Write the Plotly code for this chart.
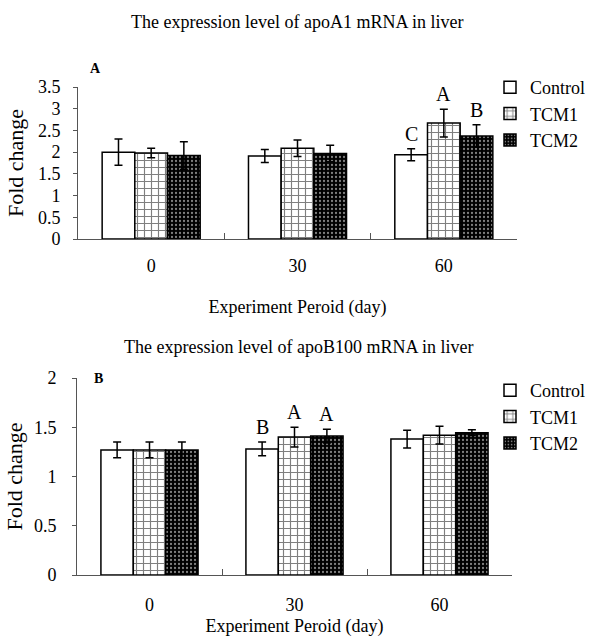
import plotly.graph_objects as go
from plotly.subplots import make_subplots

days = ["0", "30", "60"]
series_names = ["Control", "TCM1", "TCM2"]

# Panel A: apoA1
ctrl_A = [2.00, 1.91, 1.94]
ctrl_A_err = [0.30, 0.15, 0.14]
tcm1_A = [1.98, 2.09, 2.67]
tcm1_A_err = [0.11, 0.19, 0.32]
tcm2_A = [1.92, 1.97, 2.37]
tcm2_A_err = [0.32, 0.19, 0.26]
sig_A = [["", "", "C"], ["", "", "A"], ["", "", "B"]]

# Panel B: apoB100
ctrl_B = [1.27, 1.28, 1.38]
ctrl_B_err = [0.08, 0.07, 0.09]
tcm1_B = [1.27, 1.40, 1.42]
tcm1_B_err = [0.08, 0.10, 0.09]
tcm2_B = [1.27, 1.41, 1.445]
tcm2_B_err = [0.08, 0.07, 0.03]
sig_B = [["", "B", ""], ["", "A", ""], ["", "A", ""]]

title_A = "The expression level of apoA1 mRNA in liver"
title_B = "The expression level of apoB100 mRNA in liver"
xtitle = "Experiment Peroid (day)"
ytitle = "Fold change"
yticks_A = [0, 0.5, 1, 1.5, 2, 2.5, 3, 3.5]
yticks_B = [0, 0.5, 1, 1.5, 2]

FONT = "Liberation Serif"
W, H = 594, 643
BARGAP = 0.33

styles = [
    dict(color="white", pattern=dict(shape="")),
    dict(color="white", pattern=dict(shape="+", fgcolor="black", bgcolor="white",
                                     size=7, solidity=0.3, fillmode="overlay")),
    dict(color="black", pattern=dict(shape=".", fgcolor="white", bgcolor="black",
                                     size=4, solidity=0.25, fillmode="overlay")),
]

fig = make_subplots(rows=2, cols=1)

def add_panel(row, vals, errs, legend):
    for i, (name, v, e) in enumerate(zip(series_names, vals, errs)):
        st = styles[i]
        fig.add_trace(go.Bar(
            x=days, y=v, legend=legend, name=name,
            marker=dict(color=st["color"], pattern=st["pattern"],
                        line=dict(color="black", width=1.5)),
            error_y=dict(type="data", array=e, visible=True, color="black",
                         thickness=1.5, width=4),
        ), row=row, col=1)

add_panel(1, [ctrl_A, tcm1_A, tcm2_A], [ctrl_A_err, tcm1_A_err, tcm2_A_err], "legend")
add_panel(2, [ctrl_B, tcm1_B, tcm2_B], [ctrl_B_err, tcm1_B_err, tcm2_B_err], "legend2")

barw = (1 - BARGAP) / 3
anns = []
def add_letters(vals, errs, sig, xref, yref):
    for i in range(3):
        for j in range(3):
            if sig[i][j]:
                anns.append(dict(x=j + (i - 1) * barw, y=vals[i][j] + errs[i][j],
                                 xref=xref, yref=yref, text=sig[i][j], showarrow=False,
                                 yanchor="bottom", yshift=2,
                                 font=dict(family=FONT, size=20, color="black")))

add_letters([ctrl_A, tcm1_A, tcm2_A], [ctrl_A_err, tcm1_A_err, tcm2_A_err], sig_A, "x", "y")
add_letters([ctrl_B, tcm1_B, tcm2_B], [ctrl_B_err, tcm1_B_err, tcm2_B_err], sig_B, "x2", "y2")

anns += [
    dict(x=297 / W, y=1 - 22 / H, xref="paper", yref="paper", text=title_A, showarrow=False,
         xanchor="center", yanchor="middle", font=dict(family=FONT, size=18, color="black")),
    dict(x=298 / W, y=1 - 347 / H, xref="paper", yref="paper", text=title_B, showarrow=False,
         xanchor="center", yanchor="middle", font=dict(family=FONT, size=18, color="black")),
    dict(x=95 / W, y=1 - 68 / H, xref="paper", yref="paper", text="<b>A</b>", showarrow=False,
         xanchor="center", yanchor="middle", font=dict(family=FONT, size=14, color="black")),
    dict(x=98 / W, y=1 - 378 / H, xref="paper", yref="paper", text="<b>B</b>", showarrow=False,
         xanchor="center", yanchor="middle", font=dict(family=FONT, size=14, color="black")),
]

axis_common = dict(showline=True, linecolor="#555", linewidth=1, showgrid=False,
                   zeroline=False, automargin=False,
                   tickfont=dict(family=FONT, size=18, color="black"))

legend_common = dict(xanchor="left", yanchor="top", itemwidth=30,
                     font=dict(family=FONT, size=18, color="black"),
                     bgcolor="rgba(0,0,0,0)", tracegroupgap=0)

fig.update_layout(
    width=W, height=H, margin=dict(l=0, r=0, t=0, b=0, autoexpand=False),
    font=dict(family=FONT, color="black"),
    paper_bgcolor="white", plot_bgcolor="white",
    barmode="group", bargap=BARGAP, bargroupgap=0,
    annotations=anns,
    xaxis=dict(type="category", domain=[78 / W, 517 / W], anchor="y", ticks="inside",
               tickson="boundaries", ticklen=6, tickcolor="#555", ticklabelstandoff=10,
               title=dict(text=xtitle, standoff=25, font=dict(family=FONT, size=18, color="black")),
               **axis_common),
    yaxis=dict(domain=[1 - 239 / H, 1 - 87 / H], anchor="x", range=[0, 3.5],
               tickvals=yticks_A, ticktext=[f"{t:g}" for t in yticks_A],
               ticks="outside", ticklen=4, tickcolor="#555", ticklabelstandoff=9,
               title=dict(text=ytitle, standoff=8, font=dict(family=FONT, size=22, color="black")),
               **axis_common),
    xaxis2=dict(type="category", domain=[77 / W, 512 / W], anchor="y2", ticks="inside",
                tickson="boundaries", ticklen=6, tickcolor="#555", ticklabelstandoff=13,
                title=dict(text=xtitle, standoff=5, font=dict(family=FONT, size=18, color="black")),
                **axis_common),
    yaxis2=dict(domain=[1 - 575 / H, 1 - 378 / H], anchor="x2", range=[0, 2],
                tickvals=yticks_B, ticktext=[f"{t:g}" for t in yticks_B],
                ticks="outside", ticklen=4, tickcolor="#555", ticklabelstandoff=12,
                title=dict(text=ytitle, standoff=5, font=dict(family=FONT, size=22, color="black")),
                **axis_common),
    legend=dict(x=490 / W, y=1 - 69 / H, **legend_common),
    legend2=dict(x=490 / W, y=1 - 372 / H, **legend_common),
    showlegend=True,
)

fig.write_html("out.html", config={"displayModeBar": False},
               post_script="document.body.style.margin='0';")
